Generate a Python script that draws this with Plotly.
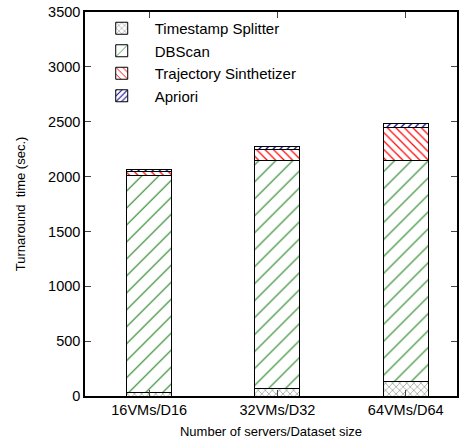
import plotly.graph_objects as go

categories = ["16VMs/D16", "32VMs/D32", "64VMs/D64"]
timestamp_splitter = [30, 65, 130]
dbscan = [1980, 2085, 2012]
trajectory = [40, 100, 307]
apriori = [15, 20, 37]

series = [
    ("Timestamp Splitter", timestamp_splitter, "x", "#6e7a6e", 5, 0.2),
    ("DBScan", dbscan, "/", "#1a7f1a", 12, 0.09),
    ("Trajectory Sinthetizer", trajectory, "\\", "#ff0000", 6, 0.2),
    ("Apriori", apriori, "/", "#00008b", 5, 0.25),
]

fig = go.Figure()
for name, vals, shape, col, sz, sol in series:
    fig.add_trace(go.Bar(
        x=list(range(len(categories))), y=vals, name=name, width=0.35,
        marker=dict(color="white", line=dict(color="black", width=1),
                    pattern=dict(shape=shape, fgcolor=col, bgcolor="white",
                                 size=sz, solidity=sol, fgopacity=1,
                                 fillmode="replace")),
    ))

fig.update_layout(
    barmode="stack",
    width=471, height=443,
    margin=dict(l=85, r=14, t=12, b=47, autoexpand=False),
    plot_bgcolor="white", paper_bgcolor="white",
    font=dict(family="Liberation Sans, Arial, sans-serif", size=13, color="black"),
    legend=dict(x=0.01, y=1.0, xanchor="left", yanchor="top",
                bgcolor="rgba(0,0,0,0)", font=dict(size=15),
                traceorder="normal", tracegroupgap=0, itemwidth=56),
    showlegend=True,
)
fig.update_xaxes(
    range=[-0.5, 2.4], tickvals=list(range(len(categories))), ticktext=categories,
    ticks="inside", ticklen=6, showline=True, linecolor="black", linewidth=1.5,
    mirror="ticks", showgrid=False, zeroline=False, automargin=False,
    title=dict(text="Number of servers/Dataset size", font=dict(size=13), standoff=10),
    tickfont=dict(size=14.5),
)
fig.update_yaxes(
    range=[0, 3500], dtick=500, ticks="inside", ticklen=6,
    showline=True, linecolor="black", linewidth=1.5, mirror="ticks",
    showgrid=False, zeroline=False, automargin=False,
    title=dict(text="Turnaround  time (sec.)", font=dict(size=13), standoff=20),
    tickfont=dict(size=14.5),
)
fig.write_html("out.html")
